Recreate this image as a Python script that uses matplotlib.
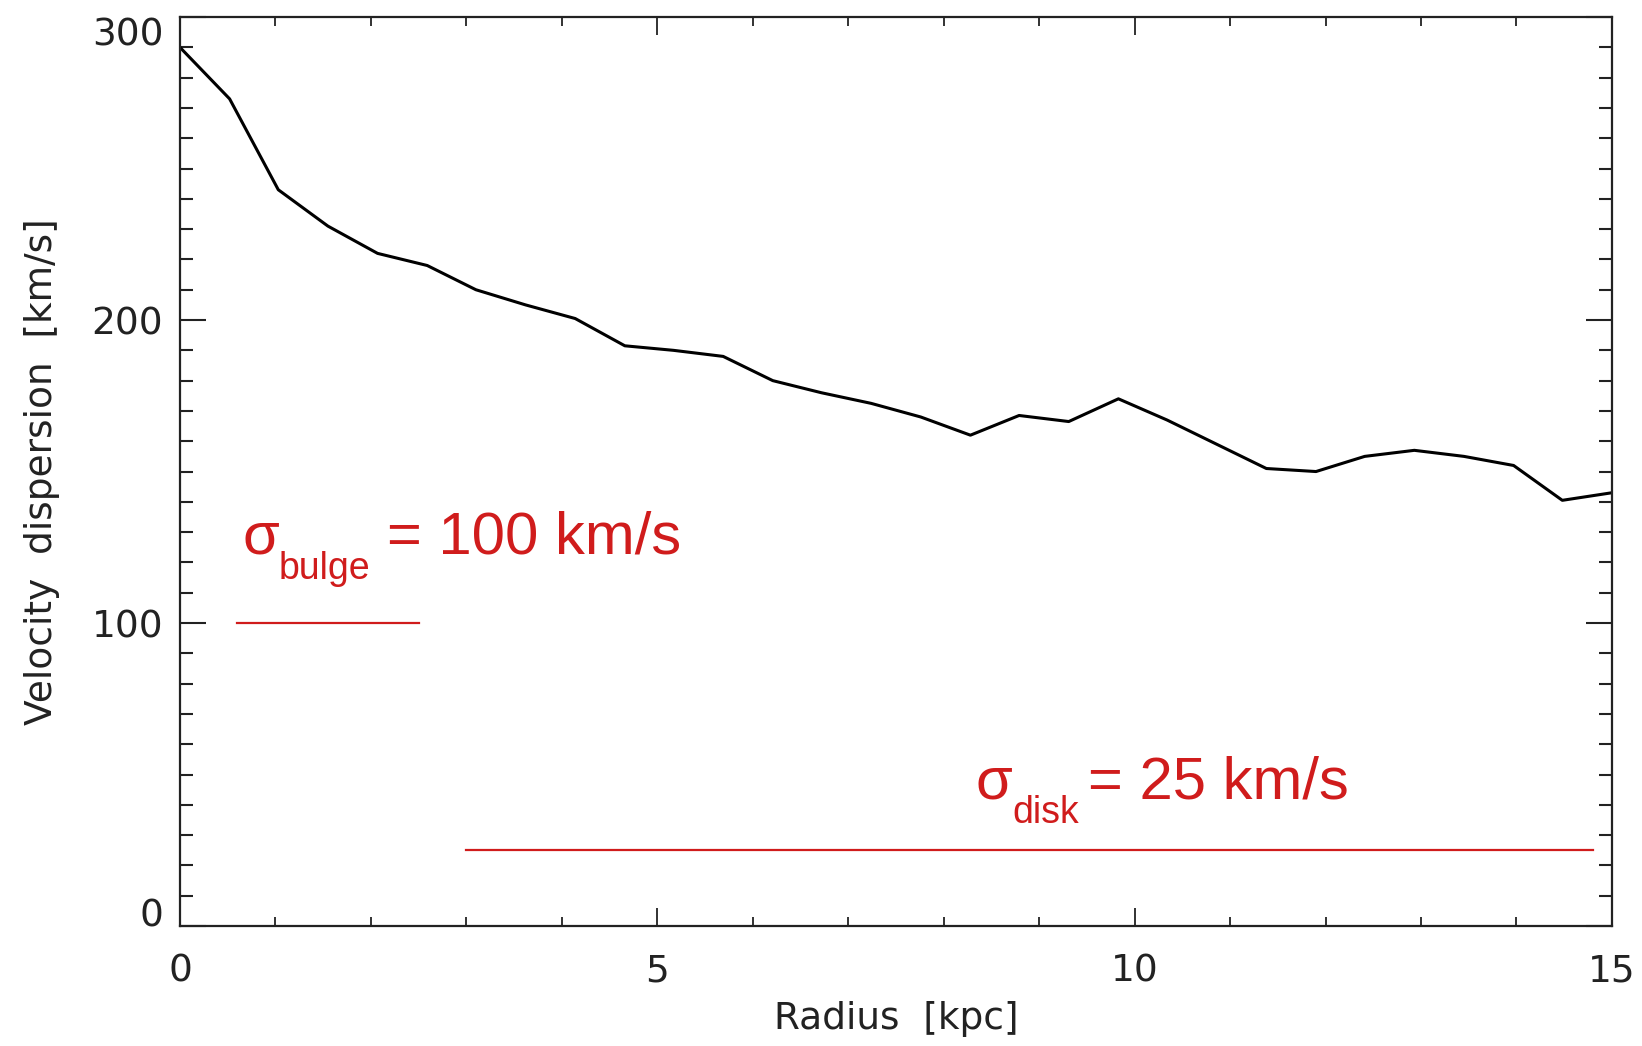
import matplotlib
matplotlib.use('Agg')
import matplotlib.pyplot as plt
from matplotlib.ticker import MultipleLocator

# velocity dispersion profile
radius = [0.00, 0.52, 1.03, 1.55, 2.07, 2.59, 3.10, 3.62, 4.14, 4.66,
          5.17, 5.69, 6.21, 6.72, 7.24, 7.76, 8.28, 8.79, 9.31, 9.83,
          10.34, 10.86, 11.38, 11.90, 12.41, 12.93, 13.45, 13.97, 14.48, 15.00]
sigma = [290, 273, 243, 231, 222, 218, 210, 205, 200.5, 191.5,
         190, 188, 180, 176, 172.5, 168, 162, 168.5, 166.5, 174,
         167, 159, 151, 150, 155, 157, 155, 152, 140.5, 143]

# reference levels
bulge_x = [0.6, 2.5]
bulge_sigma = 100
disk_x = [3.0, 14.8]
disk_sigma = 25

red = '#d01c1c'
dark = '#222222'

fig = plt.figure(figsize=(16.42, 10.46), dpi=100)
ax = fig.add_axes([0.1096, 0.1147, 0.8721, 0.8690])

ax.plot(radius, sigma, color='black', lw=2.2)
ax.plot(bulge_x, [bulge_sigma] * 2, color=red, lw=1.6)
ax.plot(disk_x, [disk_sigma] * 2, color=red, lw=1.6)

ax.set_xlim(0, 15)
ax.set_ylim(0, 300)

ax.xaxis.set_major_locator(MultipleLocator(5))
ax.xaxis.set_minor_locator(MultipleLocator(1))
ax.yaxis.set_major_locator(MultipleLocator(100))
ax.yaxis.set_minor_locator(MultipleLocator(10))

ax.tick_params(axis='both', which='both', direction='in', top=True, right=True,
               colors=dark, labelcolor=dark)
ax.tick_params(axis='y', which='major', length=19, width=1.5, pad=12, labelsize=27)
ax.tick_params(axis='y', which='minor', length=9.5, width=1.5)
ax.tick_params(axis='x', which='major', length=13, width=1.3, pad=20, labelsize=27)
ax.tick_params(axis='x', which='minor', length=6.5, width=1.3)

for s in ax.spines.values():
    s.set_color(dark)
    s.set_linewidth(1.6)

# IDL style: end labels sit inside the axis range
fig.canvas.draw()
for t in ax.yaxis.get_major_ticks():
    if abs(t.get_loc() - 0) < 1e-6:
        t.label1.set_verticalalignment('baseline')
    elif abs(t.get_loc() - 300) < 1e-6:
        t.label1.set_verticalalignment('top')

ax.set_xlabel('Radius  [kpc]', fontsize=27, color=dark)
ax.set_ylabel('Velocity  dispersion  [km/s]', fontsize=27, color=dark)
ax.xaxis.set_label_coords(0.5, -0.082)
ax.yaxis.set_label_coords(-0.084, 0.5)

tf = dict(family=['Liberation Sans', 'DejaVu Sans'], color=red, va='baseline', ha='left')
ax.text(0.66, 123, '\u03c3', fontsize=43, **tf)
ax.text(1.03, 114.5, 'bulge', fontsize=27, **tf)
ax.text(2.17, 123, '= 100 km/s', fontsize=43, **tf)

ax.text(8.33, 42, '\u03c3', fontsize=43, **tf)
ax.text(8.72, 34, 'disk', fontsize=27, **tf)
ax.text(9.51, 42, '= 25 km/s', fontsize=43, **tf)

fig.savefig('out.png', dpi=100)
